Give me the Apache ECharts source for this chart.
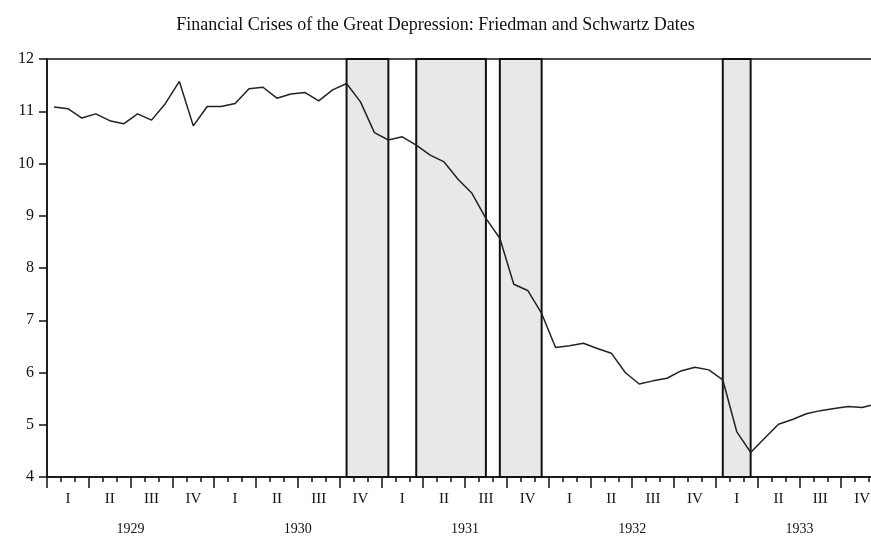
<!DOCTYPE html>
<html>
<head>
<meta charset="utf-8">
<script src="https://cdn.jsdelivr.net/npm/echarts@6/dist/echarts.min.js"></script>
<style>
	html, body { margin: 0; padding: 0; background: #fff; overflow: hidden; }
	#chart { width: 871px; height: 540px; }
</style>
</head>
<body>
<div id="chart"></div>
<script>
	//   months Jan 1929 .. Dec 1933
	var years = ['1929', '1930', '1931', '1932', '1933'];
	var quarters = ['I', 'II', 'III', 'IV'];
	var monthNames = ['Jan', 'Feb', 'Mar', 'Apr', 'May', 'Jun', 'Jul', 'Aug', 'Sep', 'Oct', 'Nov', 'Dec'];

	var values = [
		11.08, 11.05, 10.87, 10.95, 10.82, 10.76, 10.95, 10.83, 11.15, 11.57, 10.72, 11.09,
		11.09, 11.15, 11.43, 11.46, 11.25, 11.33, 11.36, 11.20, 11.41, 11.53, 11.18, 10.59,
		10.45, 10.51, 10.35, 10.16, 10.03, 9.70, 9.43, 8.95, 8.57, 7.69, 7.57, 7.13,
		6.48, 6.51, 6.56, 6.46, 6.37, 6.00, 5.78, 5.84, 5.89, 6.03, 6.10, 6.05,
		5.86, 4.87, 4.47, 4.74, 5.01, 5.10, 5.21, 5.27, 5.31, 5.35, 5.33, 5.40
	];

	//   crisis periods (start, end)
	var crises = [
		['Oct 1930', 'Jan 1931'],
		['Mar 1931', 'Aug 1931'],
		['Sep 1931', 'Dec 1931'],
		['Jan 1933', 'Mar 1933']
	];

	var months = [];
	var quarterCats = [];
	for (var y = 0; y < years.length; y++) {
		for (var m = 0; m < 12; m++) {
			months.push(monthNames[m] + ' ' + years[y]);
		}
		for (var q = 0; q < 4; q++) {
			quarterCats.push(quarters[q] + ' ' + years[y]);
		}
	}

	var font = '"Liberation Serif", "DejaVu Serif", serif';
	var black = '#111';

	var areas = crises.map(function (c) {
		return [{ xAxis: c[0] }, { xAxis: c[1] }];
	});

	var chart = echarts.init(document.getElementById('chart'));
	var option = {
		animation: false,
		title: {
			text: 'Financial Crises of the Great Depression: Friedman and Schwartz Dates',
			left: 'center',
			top: 11,
			textStyle: { fontFamily: font, fontSize: 18, fontWeight: 'normal', color: black }
		},
		//   plot runs past the right edge of the picture
		grid: {
			left: 47, top: 59, right: -12, bottom: 63,
			outerBoundsMode: 'none',
			containLabel: false,
			show: true, borderColor: black, borderWidth: 1.5
		},
		xAxis: [
			{
				type: 'category',
				position: 'bottom',
				data: months,
				boundaryGap: true,
				axisLine: { lineStyle: { color: black, width: 1.5 } },
				axisTick: { show: true, length: 5, interval: 0, lineStyle: { color: black, width: 1.5 } },
				axisLabel: { show: false },
				splitLine: { show: false }
			},
			{
				type: 'category',
				position: 'bottom',
				data: quarterCats,
				boundaryGap: true,
				axisLine: { show: false },
				axisTick: { show: true, length: 11, interval: 0, lineStyle: { color: black, width: 1.5 } },
				axisLabel: {
					interval: 0, margin: 15,
					fontFamily: font, fontSize: 15, color: black,
					formatter: function (v) { return v.split(' ')[0]; }
				},
				splitLine: { show: false }
			},
			{
				type: 'category',
				position: 'bottom',
				data: years,
				boundaryGap: true,
				axisLine: { show: false },
				axisTick: { show: false },
				axisLabel: { interval: 0, margin: 45, fontFamily: font, fontSize: 14, color: black },
				splitLine: { show: false }
			}
		],
		yAxis: {
			type: 'value',
			min: 4,
			max: 12,
			interval: 1,
			axisLine: { show: true, lineStyle: { color: black, width: 1.5 } },
			axisTick: { show: true, length: 8, lineStyle: { color: black, width: 1.5 } },
			axisLabel: { margin: 13, fontFamily: font, fontSize: 16, color: black },
			splitLine: { show: false }
		},
		series: [{
			type: 'line',
			xAxisIndex: 0,
			data: values,
			symbol: 'none',
			lineStyle: { color: '#222', width: 1.5 },
			markArea: {
				silent: true,
				itemStyle: { color: '#e8e8e8', borderColor: black, borderWidth: 2 },
				data: areas
			}
		}]
	};
	chart.setOption(option);
</script>
</body>
</html>
